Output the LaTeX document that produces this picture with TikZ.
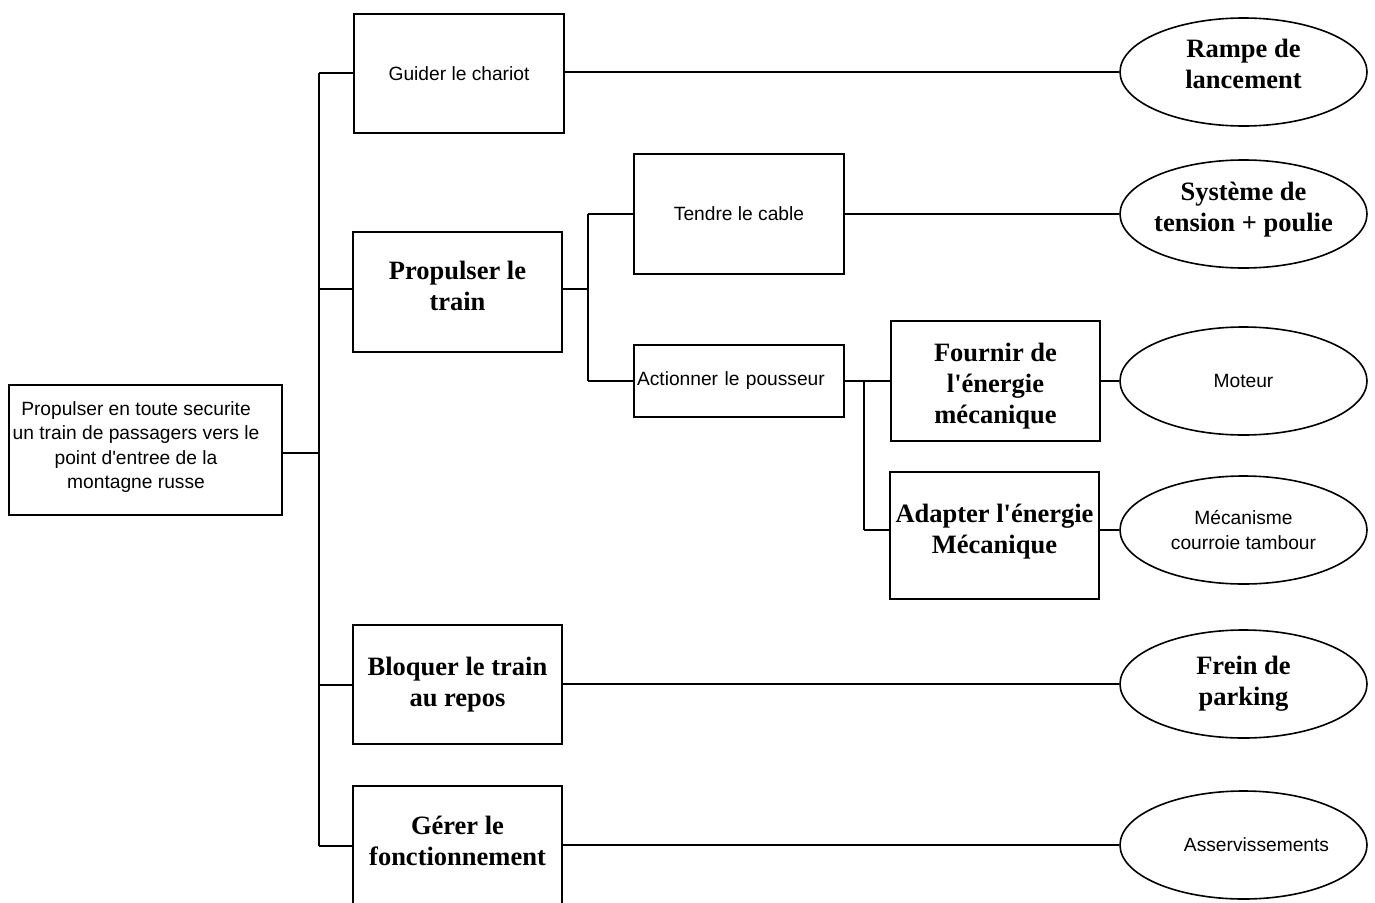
\documentclass[tikz,border=0pt]{standalone}
\usepackage{fontspec}
\setmainfont{Liberation Serif}
\newfontfamily\arialfont{Liberation Sans}
\usetikzlibrary{shapes.geometric}
\tikzset{
  fbox/.style={draw, line width=1.6pt, rectangle, inner sep=2pt, align=center},
  sanstext/.style={font=\arialfont\fontsize{19.2}{24.5}\selectfont},
  boldtext/.style={font=\fontsize{26.5}{31}\selectfont\bfseries},
  tlabel/.style={inner sep=0pt, align=center},
  soln/.style={draw, line width=1.6pt, ellipse, minimum width=247pt, minimum height=108pt, inner sep=0pt, align=center},
  link/.style={draw, line width=1.6pt}
}
\newcommand{\apos}{\textquotesingle}
\begin{document}
\begin{tikzpicture}[x=1pt,y=-1pt]
\useasboundingbox (0,0) rectangle (1375,902);
\begin{scope}
\clip (0,0) rectangle (1375,902);

% root
\node[fbox, minimum width=273pt, minimum height=130pt] (root) at (145.5,450) {};
\node[sanstext, tlabel] (rootlabel) at (136,447)
  {Propulser en toute securite\\un train de passagers vers le\\point d'entree de la\\montagne russe};

% level 1 boxes
\node[fbox, sanstext, minimum width=210pt, minimum height=119pt] (guider) at (459,73.5) {Guider le chariot};
\node[fbox, minimum width=209pt, minimum height=120pt] (propulser) at (457.5,292) {};
\node[boldtext, tlabel] (propulserlabel) at (457.5,286) {Propulser le\\train};
\node[fbox, boldtext, minimum width=209pt, minimum height=119pt] (bloquer) at (457.5,684.5) {Bloquer le train\\au repos};
\node[fbox, minimum width=209pt, minimum height=120pt] (gerer) at (457.5,846) {};
\node[boldtext, tlabel] (gererlabel) at (457.5,841) {G\'erer le\\fonctionnement};

% level 2
\node[fbox, sanstext, minimum width=210pt, minimum height=120pt] (tendre) at (739,214) {Tendre le cable};
\node[fbox, sanstext, minimum width=210pt, minimum height=72pt, text width=204pt, align=left] (actionner) at (739,381) {Actionner le pousseur};

% level 3
\node[fbox, minimum width=209pt, minimum height=120pt] (fournir) at (995.5,381) {};
\node[boldtext, tlabel] (fournirlabel) at (995.5,386) {Fournir de\\l\apos\'energie\\m\'ecanique};
\node[fbox, minimum width=209pt, minimum height=127pt] (adapter) at (994.5,535.5) {};
\node[boldtext, tlabel] (adapterlabel) at (994.5,531.5) {Adapter l\apos\'energie\\M\'ecanique};

% solutions
\node[soln] (rampe) at (1243.5,72) {};
\node[boldtext, tlabel] (rampelabel) at (1243.5,64) {Rampe de\\lancement};
\node[soln] (systeme) at (1243.5,214) {};
\node[boldtext, tlabel] (systemelabel) at (1243.5,210) {Syst\`eme de\\tension + poulie};
\node[soln, sanstext] (moteur) at (1243.5,381) {Moteur};
\node[soln, sanstext] (mecanisme) at (1243.5,530) {M\'ecanisme\\courroie tambour};
\node[soln, boldtext] (frein) at (1243.5,684) {Frein de\\parking};
\node[soln, sanstext] (asserv) at (1243.5,845) {\hspace*{26pt}Asservissements};

% main spine
\coordinate (s1) at (319,73);
\coordinate (s2) at (319,289);
\coordinate (s3) at (319,685);
\coordinate (s4) at (319,846);
\coordinate (s0) at (319,453);
\draw[link] (s1) -- (s4);
\draw[link] (root.east |- s0) -- (s0);
\draw[link] (s1) -- (s1 -| guider.west);
\draw[link] (s2) -- (s2 -| propulser.west);
\draw[link] (s3) -- (s3 -| bloquer.west);
\draw[link] (s4) -- (s4 -| gerer.west);

% level 1 to solutions
\draw[link] (guider.east |- rampe.west) -- (rampe.west);
\draw[link] (bloquer.east |- frein.west) -- (frein.west);
\draw[link] (gerer.east |- asserv.west) -- (asserv.west);

% propulser sub-tree
\coordinate (p0) at (588,289);
\coordinate (p1) at (588,214);
\coordinate (p2) at (588,381);
\draw[link] (propulser.east |- p0) -- (p0);
\draw[link] (p1) -- (p2);
\draw[link] (p1) -- (tendre.west);
\draw[link] (p2) -- (actionner.west);
\draw[link] (tendre.east) -- (systeme.west);

% actionner sub-tree
\coordinate (a1) at (864,381);
\coordinate (a2) at (864,530);
\draw[link] (actionner.east) -- (fournir.west);
\draw[link] (a1) -- (a2);
\draw[link] (a2) -- (a2 -| adapter.west);
\draw[link] (fournir.east) -- (moteur.west);
\draw[link] (adapter.east |- mecanisme.west) -- (mecanisme.west);
\end{scope}
\end{tikzpicture}
\end{document}
